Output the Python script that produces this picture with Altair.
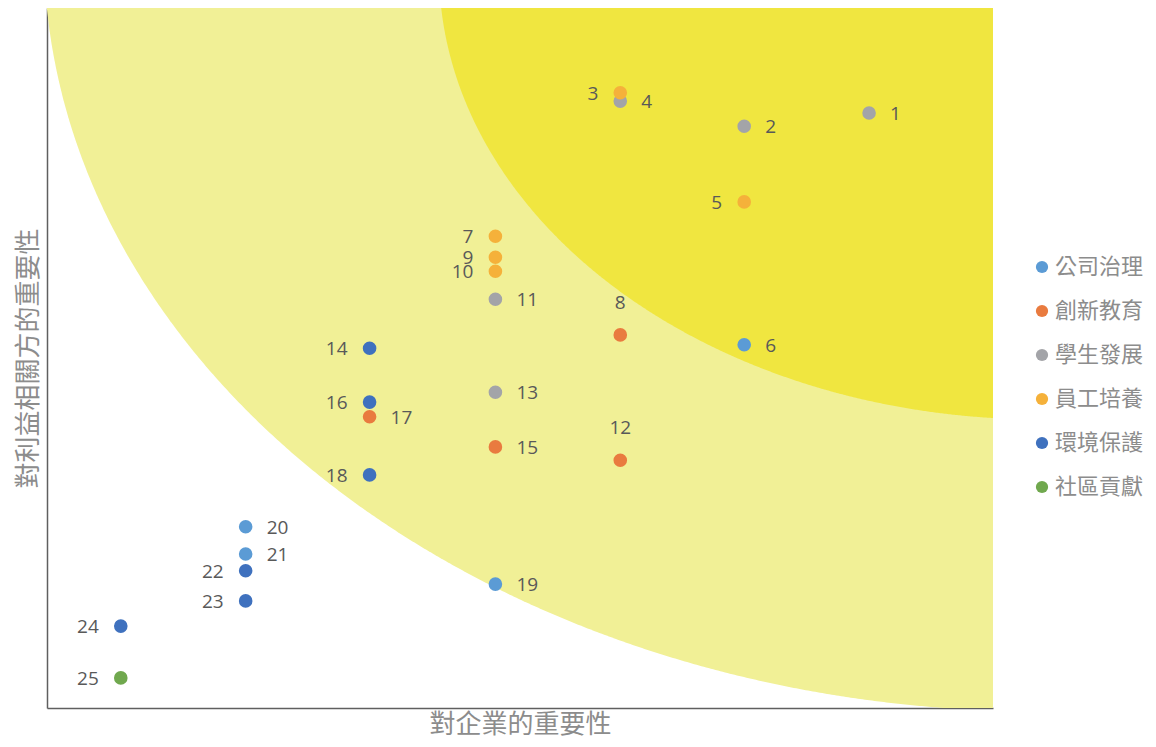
import altair as alt
import numpy as np
import pandas as pd

# ---- data ----
ids = list(range(1, 26))
x_vals = [8.69, 7.37, 6.06, 6.06, 7.37, 7.37, 4.74, 6.06, 4.74, 4.74,
          4.74, 6.06, 4.74, 3.41, 4.74, 3.41, 3.41, 3.41, 4.74, 2.10,
          2.10, 2.10, 2.10, 0.78, 0.78]
y_vals = [8.50, 8.31, 8.79, 8.67, 7.23, 5.19, 6.74, 5.33, 6.44, 6.24,
          5.84, 3.54, 4.51, 5.14, 3.73, 4.37, 4.16, 3.33, 1.77, 2.59,
          2.20, 1.96, 1.53, 1.17, 0.43]
cats = ["學生發展", "學生發展", "員工培養", "學生發展", "員工培養", "公司治理",
        "員工培養", "創新教育", "員工培養", "員工培養", "學生發展", "創新教育",
        "學生發展", "環境保護", "創新教育", "環境保護", "創新教育", "環境保護",
        "公司治理", "公司治理", "公司治理", "環境保護", "環境保護", "環境保護",
        "社區貢獻"]
cat_order = ["公司治理", "創新教育", "學生發展", "員工培養", "環境保護", "社區貢獻"]
cat_colors = ["#5B9BD5", "#E97B3F", "#A3A4A8", "#F5B13A", "#3F71BE", "#70A84E"]

left_ids = [3, 5, 7, 9, 10, 14, 16, 18, 22, 23, 24, 25]
top_ids = [8, 12]

x_title = "對企業的重要性"
y_title = "對利益相關方的重要性"

df = pd.DataFrame({"id": ids, "x": x_vals, "y": y_vals, "cat": cats})
df["ord"] = df["cat"].map({c: i for i, c in enumerate(cat_order)})
df = df.sort_values(["ord", "id"]).reset_index(drop=True)
df["label"] = df["id"].astype(str)
df["side"] = np.where(df["id"].isin(left_ids), "left",
                      np.where(df["id"].isin(top_ids), "top", "right"))


# ---- background zones (elliptical bands toward the top-right corner) ----
def zone(cx, cy, a, b, x0):
    xs = np.linspace(x0, 10, 400)
    ys = cy - b * np.sqrt(np.clip(1 - ((cx - xs) / a) ** 2, 0, None))
    return pd.DataFrame({"x": xs, "y": ys, "top": 10.0})


outer = zone(10.497, 10.829, 10.529, 10.879, 0.0)
inner = zone(10.497, 10.543, 6.353, 6.42, 4.167)

xs = alt.Scale(domain=[0, 10], nice=False, zero=False)
ys = alt.Scale(domain=[0, 10], nice=False, zero=False)

title_font = "Noto Sans CJK TC"

x_axis = alt.Axis(labels=False, ticks=False, grid=False, domainColor="#5f5f5f",
                  domainWidth=1.5, title=x_title, titleFont=title_font,
                  titleFontSize=26, titleFontWeight="normal", titleColor="#8c8c8c",
                  titlePadding=3)
y_axis = alt.Axis(labels=False, ticks=False, grid=False, domainColor="#5f5f5f",
                  domainWidth=1.5, title=y_title, titleFont=title_font,
                  titleFontSize=26, titleFontWeight="normal", titleColor="#8c8c8c",
                  titlePadding=6)

outer_layer = alt.Chart(outer).mark_area(color="#F1F096", clip=True).encode(
    x=alt.X("x:Q", scale=xs, axis=x_axis),
    y=alt.Y("y:Q", scale=ys, axis=y_axis),
    y2="top:Q",
)
inner_layer = alt.Chart(inner).mark_area(color="#F0E640", clip=True).encode(
    x=alt.X("x:Q", scale=xs),
    y=alt.Y("y:Q", scale=ys),
    y2="top:Q",
)

points = alt.Chart(df).mark_circle(size=185, opacity=1).encode(
    x=alt.X("x:Q", scale=xs),
    y=alt.Y("y:Q", scale=ys),
    color=alt.Color(
        "cat:N",
        scale=alt.Scale(domain=cat_order, range=cat_colors),
        legend=alt.Legend(
            title=None, orient="none", legendX=984, legendY=248,
            labelFont=title_font, labelFontSize=22, labelColor="#8c8c8c",
            symbolType="circle", symbolSize=150, symbolStrokeWidth=0,
            rowPadding=22, labelOffset=2, labelLimit=200,
        ),
    ),
)

label_style = dict(font="Open Sans", fontSize=19, color="#595959", baseline="middle")

right_labels = alt.Chart(df).transform_filter(
    alt.datum.side == "right"
).mark_text(align="left", dx=21, dy=1, **label_style).encode(
    x=alt.X("x:Q", scale=xs), y=alt.Y("y:Q", scale=ys), text="label:N")

left_labels = alt.Chart(df).transform_filter(
    alt.datum.side == "left"
).mark_text(align="right", dx=-22, dy=1, **label_style).encode(
    x=alt.X("x:Q", scale=xs), y=alt.Y("y:Q", scale=ys), text="label:N")

top_labels = alt.Chart(df).transform_filter(
    alt.datum.side == "top"
).mark_text(align="center", dy=-32, **label_style).encode(
    x=alt.X("x:Q", scale=xs), y=alt.Y("y:Q", scale=ys), text="label:N")

chart = alt.layer(
    outer_layer, inner_layer, points, right_labels, left_labels, top_labels
).properties(
    width=946, height=700,
    autosize=alt.AutoSizeParams(type="none"),
    padding={"left": 39, "top": 0, "right": 155, "bottom": 30},
).configure_view(stroke=None)

chart.save("out.html", embed_options={"renderer": "svg", "actions": False})
